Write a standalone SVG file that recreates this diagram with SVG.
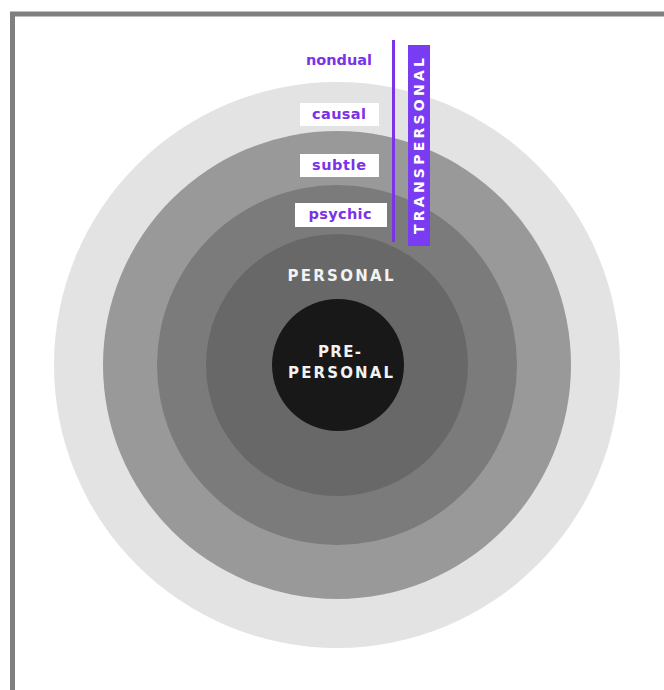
<svg xmlns="http://www.w3.org/2000/svg" width="664" height="690" viewBox="0 0 664 690">
<style>
.lbl{font-family:"DejaVu Sans",Verdana,sans-serif;font-weight:bold;font-size:14.5px;fill:#7a33e6;text-anchor:middle}
.box{fill:#ffffff}
.wh{font-family:"DejaVu Sans",Verdana,sans-serif;font-weight:bold;font-size:15px;fill:#f2f2f2;text-anchor:middle;letter-spacing:1px}
</style>
<rect x="0" y="0" width="664" height="690" fill="#ffffff"/>
<rect x="12.5" y="14" width="700" height="720" fill="none" stroke="#7f7f7f" stroke-width="5"/>
<g id="rings">
<circle id="ring-causal" cx="337" cy="365" r="283" fill="#e3e3e3"/>
<circle id="ring-subtle" cx="337" cy="365" r="234" fill="#999999"/>
<circle id="ring-psychic" cx="337" cy="365" r="180" fill="#7b7b7b"/>
<circle id="ring-personal" cx="337" cy="365" r="131" fill="#686868"/>
</g>
<g id="pre-personal">
<circle cx="338" cy="365" r="66" fill="#181818"/>
<text class="wh" x="340" y="357" textLength="44">PRE-</text>
<text class="wh" x="341" y="378" textLength="106">PERSONAL</text>
</g>
<g id="personal">
<text class="wh" x="341" y="281" textLength="107">PERSONAL</text>
</g>
<g id="nondual">
<text class="lbl" x="339" y="65" textLength="66">nondual</text>
</g>
<g id="causal">
<rect class="box" x="300" y="103" width="79" height="23"/>
<text class="lbl" x="339" y="119" textLength="54">causal</text>
</g>
<g id="subtle">
<rect class="box" x="300" y="154" width="79" height="23"/>
<text class="lbl" x="339" y="170" textLength="54">subtle</text>
</g>
<g id="psychic">
<rect class="box" x="295" y="203" width="92" height="24"/>
<text class="lbl" x="340" y="219" textLength="63">psychic</text>
</g>
<g id="connectors">
<line x1="393.5" y1="40" x2="393.5" y2="242" stroke="#7a33e6" stroke-width="3"/>
</g>
<g id="transpersonal">
<rect x="408" y="45" width="22" height="201" fill="#7a3cf2"/>
<text transform="translate(424,146) rotate(-90)" x="0" y="0" style="font-family:'DejaVu Sans',Verdana,sans-serif;font-weight:bold;font-size:14px;fill:#ffffff;text-anchor:middle" textLength="176">TRANSPERSONAL</text>
</g>
</svg>
